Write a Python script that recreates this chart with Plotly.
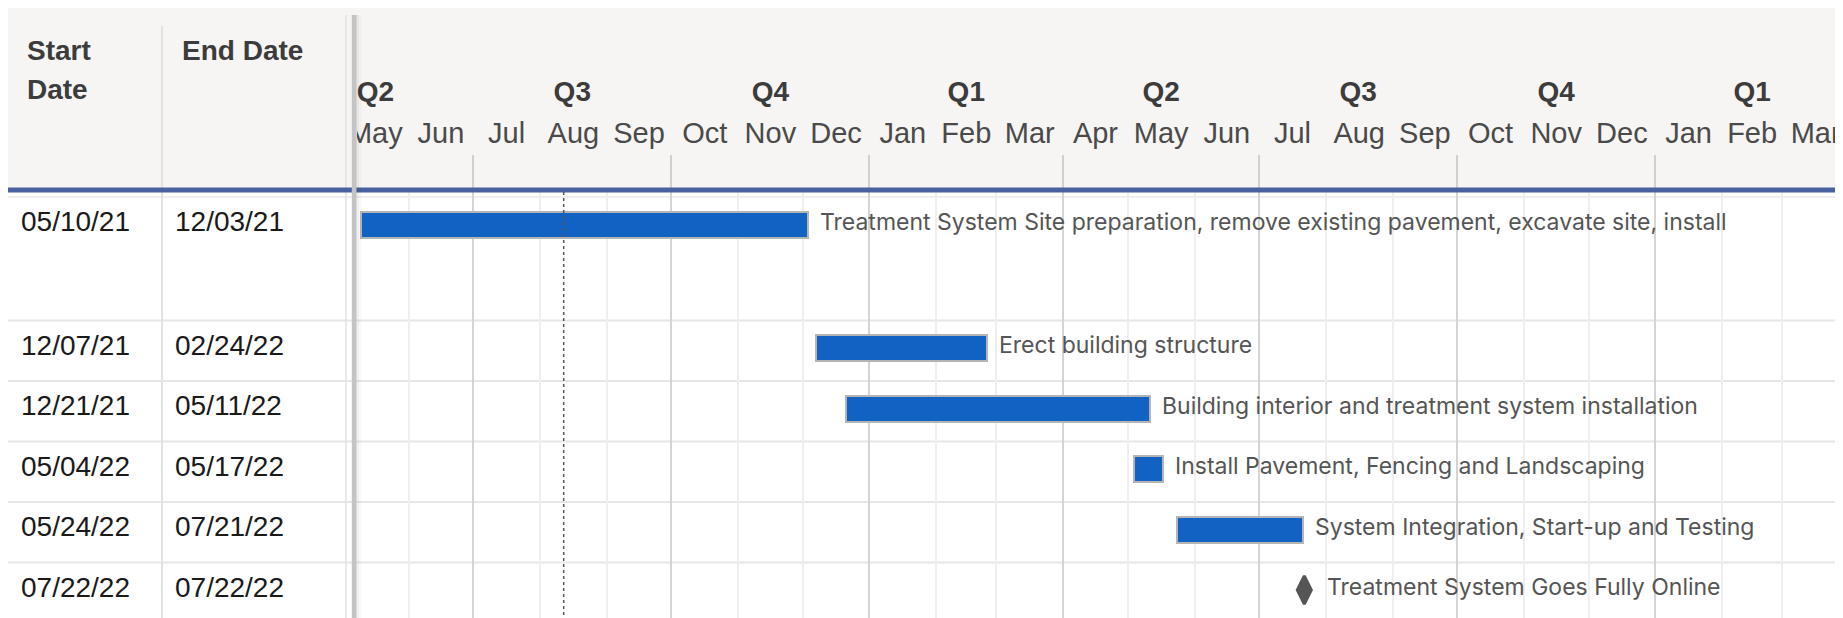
import pandas as pd
import plotly.graph_objects as go

# page is 1843x618; the figure sits inside the default 8px body margin
PAGE_W, PAGE_H = 1843, 618
OFF = 8
FW, FH = PAGE_W - OFF, PAGE_H - OFF

# ---------------- data ----------------
tasks = [
    "Treatment System Site preparation, remove existing pavement, excavate site, install",
    "Erect building structure",
    "Building interior and treatment system installation",
    "Install Pavement, Fencing and Landscaping",
    "System Integration, Start-up and Testing",
    "Treatment System Goes Fully Online",
]
start_dates = ["05/10/21", "12/07/21", "12/21/21", "05/04/22", "05/24/22", "07/22/22"]
end_dates = ["12/03/21", "02/24/22", "05/11/22", "05/17/22", "07/21/22", "07/22/22"]
status_date = "2021-08-12"

table_headers = [["Start", "Date"], ["End Date"]]
quarter_labels = ["Q2", "Q3", "Q4", "Q1", "Q2", "Q3", "Q4", "Q1"]
month_labels = ["May", "Jun", "Jul", "Aug", "Sep", "Oct", "Nov", "Dec",
                "Jan", "Feb", "Mar", "Apr", "May", "Jun", "Jul", "Aug",
                "Sep", "Oct", "Nov", "Dec", "Jan", "Feb", "Mar"]
first_month = "2021-05-01"
first_quarter = "2021-04-01"

# ---------------- layout constants (page pixels) ----------------
HEADER_TOP = 8
HEADER_BOTTOM = 188
BODY_TOP = 192
GANTT_LEFT = 357
FIRST_ROW_TOP = 197
ROW_HEIGHTS = [123.5, 60.5, 60.5, 60.5, 60.5, 60.5]
MARK_OFFSET = 27.5
TEXT_LIFT = 3
X_RANGE = ["2021-05-08", "2023-03-29 05:00"]
COL_HEADER_X = [25, 180]
COL_BODY_X = [19, 173]
COL_SEPS = [162, 346]

BAR_COLOR = "#1262C4"
TEXT_FONT = "Liberation Sans, Arial, sans-serif"
LABEL_FONT = "Inter, Roboto, sans-serif"


def px(x):
    return (x - OFF) / FW


def py(y):
    return 1 - (y - OFF) / FH


starts = pd.to_datetime(start_dates, format="%m/%d/%y")
ends = pd.to_datetime(end_dates, format="%m/%d/%y")
n = len(tasks)

row_tops = []
acc = FIRST_ROW_TOP
for h in ROW_HEIGHTS:
    row_tops.append(acc)
    acc += h
row_centers = [t + MARK_OFFSET for t in row_tops]

is_milestone = [starts[i] == ends[i] for i in range(n)]
bar_idx = [i for i in range(n) if not is_milestone[i]]
ms_idx = [i for i in range(n) if is_milestone[i]]

fig = go.Figure()

# bars
fig.add_trace(go.Bar(
    orientation="h",
    base=[starts[i].strftime("%Y-%m-%d") for i in bar_idx],
    x=[(ends[i] + pd.Timedelta(hours=12) - starts[i]).total_seconds() * 1000 for i in bar_idx],
    y=[row_centers[i] for i in bar_idx],
    width=26,
    marker=dict(color=BAR_COLOR, line=dict(color="#B5B5B5", width=2)),
    xaxis="x", yaxis="y", hoverinfo="skip", showlegend=False,
))

# milestones
fig.add_trace(go.Scatter(
    x=[starts[i].strftime("%Y-%m-%d") for i in ms_idx],
    y=[row_centers[i] for i in ms_idx],
    mode="markers",
    marker=dict(symbol="diamond-tall", size=20, color="#555555",
                line=dict(width=3, color="#555555")),
    cliponaxis=False, xaxis="x", yaxis="y", hoverinfo="skip", showlegend=False,
))

# timeline header labels
month_starts = pd.date_range(first_month, periods=len(month_labels) + 1, freq="MS")
month_centers = [month_starts[i] + (month_starts[i + 1] - month_starts[i]) / 2 for i in range(len(month_labels))]
quarter_starts = pd.date_range(first_quarter, periods=len(quarter_labels) + 1, freq="QS")
quarter_centers = [quarter_starts[i] + (quarter_starts[i + 1] - quarter_starts[i]) / 2 for i in range(len(quarter_labels))]

fig.add_trace(go.Scatter(
    x=quarter_centers, y=[94] * len(quarter_labels), mode="text",
    text=["<b>%s</b>" % q for q in quarter_labels],
    textfont=dict(family=TEXT_FONT, size=28, color="#3c3c3c"),
    textposition="middle center",
    xaxis="x2", yaxis="y2", cliponaxis=True, hoverinfo="skip", showlegend=False,
))
fig.add_trace(go.Scatter(
    x=month_centers, y=[136] * len(month_labels), mode="text",
    text=month_labels,
    textfont=dict(family=TEXT_FONT, size=29, color="#4a4a4a"),
    textposition="middle center",
    xaxis="x2", yaxis="y2", cliponaxis=True, hoverinfo="skip", showlegend=False,
))

shapes = []
# header background
shapes.append(dict(type="rect", xref="paper", yref="paper", x0=0, x1=1,
                   y0=py(BODY_TOP), y1=1, fillcolor="#F6F5F3",
                   line=dict(width=0), layer="below"))
# row lines
for t in row_tops[1:]:
    shapes.append(dict(type="line", xref="paper", yref="y", x0=0, x1=1,
                       y0=t, y1=t, line=dict(color="#E6E6E6", width=2), layer="below"))
shapes.append(dict(type="line", xref="paper", yref="y", x0=0, x1=1,
                   y0=FIRST_ROW_TOP, y1=FIRST_ROW_TOP, line=dict(color="#EAEAEA", width=1.5), layer="below"))
# column separators
shapes.append(dict(type="line", xref="paper", yref="paper", x0=px(COL_SEPS[0]), x1=px(COL_SEPS[0]),
                   y0=py(26), y1=0, line=dict(color="#E2E2E2", width=2), layer="above"))
shapes.append(dict(type="line", xref="paper", yref="paper", x0=px(COL_SEPS[1]), x1=px(COL_SEPS[1]),
                   y0=py(15), y1=0, line=dict(color="#E2E2E2", width=1.5), layer="above"))
# blue header rule
shapes.append(dict(type="rect", xref="paper", yref="paper", x0=0, x1=1,
                   y0=py(192.5), y1=py(187.5), fillcolor="#4A61A0", line=dict(width=0), layer="above"))
# status date line
shapes.append(dict(type="line", xref="x", yref="y", x0=status_date, x1=status_date,
                   y0=BODY_TOP, y1=PAGE_H, line=dict(color="#555555", width=1.5, dash="dot"), layer="above"))
# splitter
shapes.append(dict(type="rect", xref="paper", yref="paper", x0=px(351.8), x1=px(356.5),
                   y0=0, y1=py(15), fillcolor="#C4C4C4", line=dict(width=0), layer="above"))
shapes.append(dict(type="rect", xref="paper", yref="paper", x0=px(356.5), x1=px(359),
                   y0=0, y1=py(15), fillcolor="rgba(0,0,0,0.06)", line=dict(width=0), layer="above"))
shapes.append(dict(type="rect", xref="paper", yref="paper", x0=px(359), x1=px(361.5),
                   y0=0, y1=py(15), fillcolor="rgba(0,0,0,0.025)", line=dict(width=0), layer="above"))

annotations = []
# table header
hy = [50, 89]
for c, lines in enumerate(table_headers):
    for k, line in enumerate(lines):
        annotations.append(dict(xref="paper", yref="paper", x=px(COL_HEADER_X[c]), y=py(hy[k]),
                                xanchor="left", yanchor="middle", showarrow=False,
                                text="<b>%s</b>" % line,
                                font=dict(family=TEXT_FONT, size=28, color="#3c3c3c")))
# table body
for i in range(n):
    for c, val in enumerate([start_dates[i], end_dates[i]]):
        annotations.append(dict(xref="paper", yref="y", x=px(COL_BODY_X[c]), y=row_centers[i] - TEXT_LIFT,
                                xanchor="left", yanchor="middle", showarrow=False, text=val,
                                font=dict(family=TEXT_FONT, size=28, color="#1a1a1a")))
# task labels
for i in range(n):
    if is_milestone[i]:
        xx, shift = starts[i].strftime("%Y-%m-%d"), 21
    else:
        xx, shift = (ends[i] + pd.Timedelta(hours=12)).strftime("%Y-%m-%d %H:%M"), 10
    annotations.append(dict(xref="x", yref="y", x=xx, y=row_centers[i] - TEXT_LIFT, xanchor="left",
                            yanchor="middle", xshift=shift, showarrow=False, text=tasks[i],
                            font=dict(family=LABEL_FONT, size=23, color="#555555")))

fig.update_layout(
    width=FW, height=FH, margin=dict(l=0, r=0, t=0, b=0),
    paper_bgcolor="white", plot_bgcolor="rgba(0,0,0,0)",
    showlegend=False, bargap=0,
    xaxis=dict(type="date", domain=[px(GANTT_LEFT), 1], range=X_RANGE, anchor="y",
               showticklabels=False, ticks="", showline=False, zeroline=False,
               showgrid=True, dtick="M3", tick0="2021-01-01", gridcolor="#D4D4D4", gridwidth=2,
               minor=dict(dtick="M1", tick0="2021-01-01", showgrid=True,
                          gridcolor="#EFEFEF", gridwidth=1.5),
               fixedrange=True),
    yaxis=dict(domain=[0, py(BODY_TOP)], range=[PAGE_H, BODY_TOP], showgrid=False, zeroline=False,
               showticklabels=False, fixedrange=True),
    xaxis2=dict(type="date", domain=[px(GANTT_LEFT), 1], matches="x", anchor="y2",
                showgrid=False, showticklabels=False, ticks="inside", ticklen=33, tickwidth=2,
                tickcolor="#D0D0D0", dtick="M3", tick0="2021-01-01", showline=False,
                zeroline=False, fixedrange=True),
    yaxis2=dict(domain=[py(HEADER_BOTTOM), py(HEADER_TOP)], range=[HEADER_BOTTOM, HEADER_TOP],
                showgrid=False, zeroline=False, showticklabels=False, fixedrange=True),
    shapes=shapes, annotations=annotations,
)

fig.write_html("out.html", config={"displayModeBar": False})
